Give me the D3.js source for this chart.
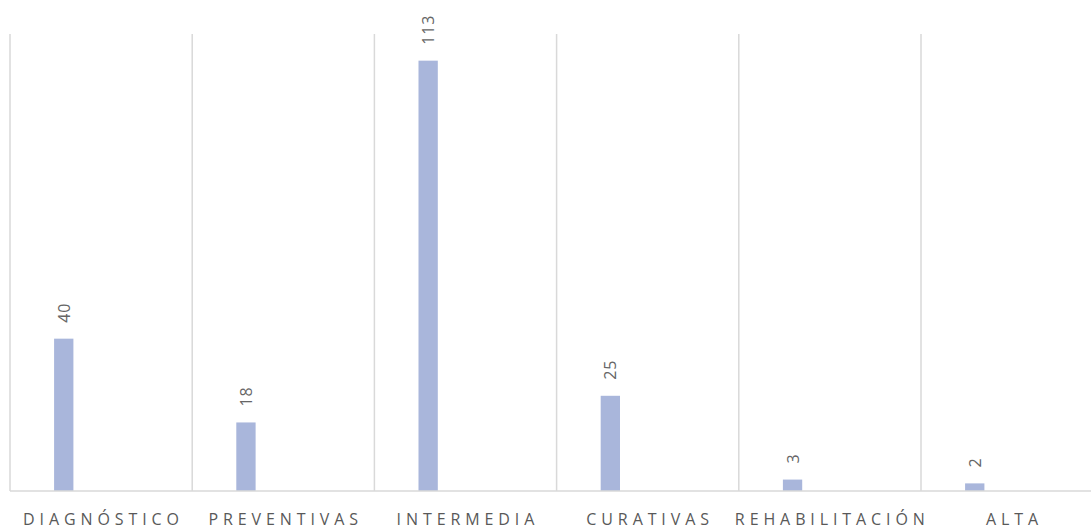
<!DOCTYPE html>
<html>
<head>
<meta charset="utf-8">
<script src="https://cdn.jsdelivr.net/npm/d3@7"></script>
<style>
    body { margin: 0; background: #fff; }
    .catLabel { font-family: "Open Sans", sans-serif; font-size: 16px; fill: #595959; letter-spacing: 4.9px; }
    .valLabel { font-family: "Open Sans", sans-serif; font-size: 16px; fill: #666; letter-spacing: 0.8px; }
</style>
</head>
<body>
<div id="chart"></div>
<script>
var categories = ["DIAGNÓSTICO", "PREVENTIVAS", "INTERMEDIA", "CURATIVAS", "REHABILITACIÓN", "ALTA"];
var values = [40, 18, 113, 25, 3, 2];
var yMax = 120;

function barChart() {

    //defining variables
    var w = 1091;
    var h = 531;
    var left = 10;
    var bandW = 182.2;
    var top = 34;
    var bottom = 491;

    var xScale = d3
        .scaleBand()
        .domain(categories)
        .range([left, left + bandW * categories.length])
        .padding(0);

    var yScale = d3
        .scaleLinear()
        .domain([0, yMax])
        .range([bottom, top]);

    var barW = xScale.bandwidth() * 0.106;
    var barOff = xScale.bandwidth() * 0.242;

    //create svg element
    var svg = d3.select("#chart").append("svg").attr("width", w).attr("height", h);

    // vertical separators between categories
    svg
        .selectAll(".sep")
        .data(categories.concat(["end"]))
        .enter()
        .append("line")
        .attr("class", "sep")
        .attr("x1", function(d, i) { return left + i * xScale.step(); })
        .attr("x2", function(d, i) { return left + i * xScale.step(); })
        .attr("y1", top)
        .attr("y2", bottom)
        .attr("stroke", "#d9d9d9")
        .attr("stroke-width", 1.5);

    svg
        .selectAll(".bar")
        .data(values)
        .enter()
        .append("rect")
        .attr("class", "bar")
        .attr("x", function(d, i) { return xScale(categories[i]) + barOff; })
        .attr("y", function(d) { return yScale(d); })
        .attr("width", barW)
        .attr("height", function(d) { return bottom - yScale(d); })
        .attr("fill", "#a9b6db");

    // baseline
    svg
        .append("line")
        .attr("x1", left)
        .attr("x2", xScale.range()[1])
        .attr("y1", bottom)
        .attr("y2", bottom)
        .attr("stroke", "#d9d9d9")
        .attr("stroke-width", 1.5);

    // value labels, rotated
    svg
        .selectAll(".valLabel")
        .data(values)
        .enter()
        .append("text")
        .attr("class", "valLabel")
        .attr("transform", function(d, i) {
            var cx = xScale(categories[i]) + barOff + barW / 2 + 6;
            var cy = yScale(d) - 16;
            return "translate(" + cx + "," + cy + ") rotate(-90)";
        })
        .text(function(d) { return d; });

    // category labels
    svg
        .selectAll(".catLabel")
        .data(categories)
        .enter()
        .append("text")
        .attr("class", "catLabel")
        .attr("x", function(d) { return xScale(d) + xScale.bandwidth() / 2 + 2.4; })
        .attr("y", 525)
        .attr("text-anchor", "middle")
        .text(function(d) { return d; });
}

window.onload = barChart;
</script>
</body>
</html>
